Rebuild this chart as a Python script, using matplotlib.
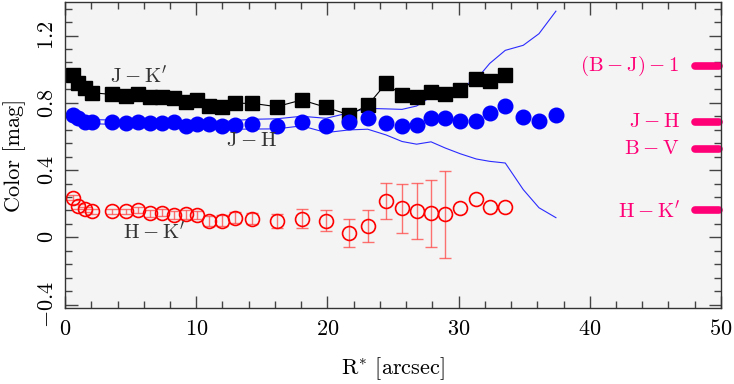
import numpy as np
import matplotlib
matplotlib.use('Agg')
import matplotlib.pyplot as plt
from matplotlib.ticker import MultipleLocator, FuncFormatter

plt.rcParams['font.family'] = 'serif'
plt.rcParams['font.serif'] = ['cmr10', 'DejaVu Serif']
plt.rcParams['mathtext.fontset'] = 'cm'
plt.rcParams['axes.formatter.use_mathtext'] = True

#*************data*************
r_jk = [0.63, 1.02, 1.52, 2.03, 3.56, 4.65, 5.59, 6.48, 7.37, 8.33, 9.2, 10.04, 11.0, 11.97, 12.96,
        14.28, 16.13, 18.04, 19.9, 21.67, 23.07, 24.47, 25.69, 26.8, 27.9, 28.99, 30.13, 31.35, 32.37, 33.56]
jk = [0.964, 0.915, 0.886, 0.86, 0.85, 0.842, 0.85, 0.833, 0.836, 0.827, 0.807, 0.817, 0.783, 0.777, 0.797,
      0.797, 0.777, 0.817, 0.773, 0.728, 0.785, 0.915, 0.846, 0.833, 0.864, 0.852, 0.876, 0.939, 0.931, 0.968]

r_jh = r_jk + [34.93, 36.13, 37.42]
jh = [0.728, 0.708, 0.688, 0.688, 0.685, 0.679, 0.685, 0.679, 0.679, 0.685, 0.663, 0.675, 0.673, 0.663, 0.669,
      0.673, 0.663, 0.688, 0.663, 0.688, 0.708, 0.682, 0.663, 0.667, 0.708, 0.708, 0.694, 0.694, 0.741, 0.781,
      0.714, 0.694, 0.730]
jh_up = [0.735, 0.718, 0.700, 0.700, 0.698, 0.692, 0.699, 0.694, 0.695, 0.702, 0.682, 0.695, 0.695, 0.687, 0.695,
         0.702, 0.705, 0.720, 0.708, 0.741, 0.767, 0.764, 0.761, 0.781, 0.836, 0.866, 0.892, 0.939, 1.034, 1.112,
         1.142, 1.211, 1.345]
jh_lo = [0.722, 0.698, 0.676, 0.676, 0.672, 0.666, 0.671, 0.664, 0.663, 0.668, 0.644, 0.655, 0.651, 0.639, 0.643,
         0.644, 0.645, 0.663, 0.623, 0.639, 0.643, 0.609, 0.570, 0.554, 0.568, 0.531, 0.497, 0.466, 0.452, 0.442,
         0.284, 0.176, 0.117]

hk = [0.235, 0.185, 0.166, 0.156, 0.156, 0.156, 0.16, 0.142, 0.146, 0.134, 0.136, 0.132, 0.096, 0.1, 0.117,
      0.112, 0.096, 0.112, 0.1, 0.028, 0.067, 0.217, 0.172, 0.156, 0.142, 0.136, 0.172, 0.229, 0.179, 0.179]
hk_err = [0.015, 0.015, 0.015, 0.015, 0.015, 0.015, 0.018, 0.02, 0.022, 0.022, 0.025, 0.025, 0.028, 0.03, 0.032,
          0.035, 0.04, 0.054, 0.064, 0.083, 0.094, 0.107, 0.145, 0.166, 0.2, 0.258, 0, 0, 0, 0]

# reference colours on the right side
ref_names = [r'$\mathrm{(B-J)-1}$', r'$\mathrm{J-H}$', r'$\mathrm{B-V}$', r"$\mathrm{H-K'}$"]
ref_vals = [1.02, 0.685, 0.525, 0.162]
#*************end of data*************

pink = '#ff0077'

fig = plt.figure(figsize=(7.34, 3.84), dpi=100)
ax = fig.add_axes([0.0886, 0.198, 0.8936, 0.797])
ax.set_facecolor('#f4f4f4')

ax.plot(r_jh, jh_up, color='#2b2bff', lw=0.8)
ax.plot(r_jh, jh_lo, color='#2b2bff', lw=0.8)

ax.plot(r_jk, jk, color='black', lw=0.8, marker='s', ms=9.5, mfc='black', mec='black')
ax.plot(r_jh, jh, ls='none', marker='o', ms=10.5, mfc='#0000ff', mec='#0000ff')

hk_err = np.array(hk_err)
r_hk = np.array(r_jk)
hk = np.array(hk)
m = hk_err > 0
ax.errorbar(r_hk[m], hk[m], yerr=hk_err[m], fmt='none', ecolor='#ff4444', elinewidth=1.0,
            capsize=4, capthick=1.0, alpha=0.75)
ax.plot(r_hk, hk, ls='none', marker='o', ms=10, mfc='none', mec='red', mew=1.2)

ax.text(5.6, 0.965, r"$\mathrm{J-K'}$", fontsize=15, color='#333333', ha='center', va='center')
ax.text(14.2, 0.574, r'$\mathrm{J-H}$', fontsize=15, color='#333333', ha='center', va='center')
ax.text(6.8, 0.035, r"$\mathrm{H-K'}$", fontsize=15, color='#333333', ha='center', va='center')

for i in range(len(ref_vals)):
    ax.plot([48.0, 49.85], [ref_vals[i], ref_vals[i]], color=pink, lw=5.5,
            solid_capstyle='round', clip_on=False)
    ax.text(46.85, ref_vals[i], ref_names[i], fontsize=15, color=pink, ha='right', va='center')

ax.set_xlim(0, 50)
ax.set_ylim(-0.42, 1.40)
ax.xaxis.set_major_locator(MultipleLocator(10))
ax.xaxis.set_minor_locator(MultipleLocator(2))
ax.yaxis.set_major_locator(MultipleLocator(0.4))
ax.yaxis.set_minor_locator(MultipleLocator(0.08))
fmt = FuncFormatter(lambda v, p: r'$%g$' % round(v, 2))
ax.xaxis.set_major_formatter(fmt)
ax.yaxis.set_major_formatter(fmt)
ax.tick_params(which='both', direction='in', top=True, right=True, labelsize=16, color='#444444')
ax.tick_params(which='major', length=9, width=1)
ax.tick_params(which='minor', length=5, width=1)
ax.tick_params(axis='x', pad=8)
ax.tick_params(axis='y', pad=6)
for lab in ax.get_yticklabels():
    lab.set_rotation(90)
    lab.set_va('center')
for s in ax.spines.values():
    s.set_linewidth(1.0)
    s.set_color('#333333')

ax.set_xlabel(r'R$^{*}$ [arcsec]', fontsize=16, labelpad=12)
ax.set_ylabel('Color [mag]', fontsize=16, labelpad=8)

fig.savefig('out.png', dpi=100)
